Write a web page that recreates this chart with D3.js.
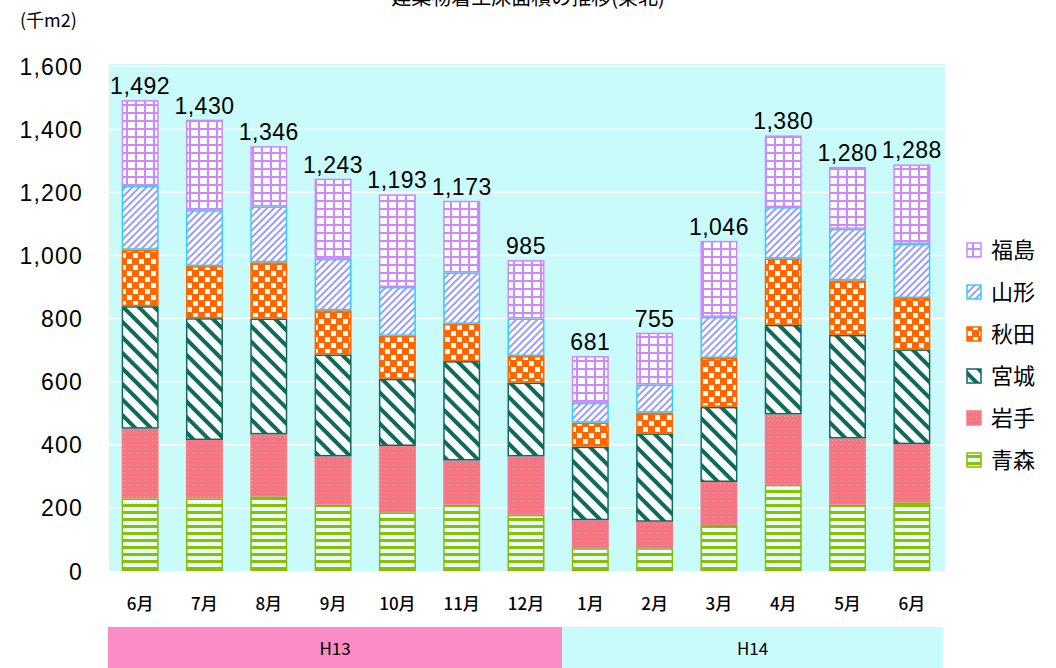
<!DOCTYPE html>
<html><head><meta charset="utf-8">
<script src="https://cdn.jsdelivr.net/npm/d3@7"></script>
<style>
html,body{margin:0;padding:0;background:#fff;}
svg{display:block;}
</style></head>
<body>
<svg id="chart" width="1056" height="668"></svg>
<script>
const months = ["6月","7月","8月","9月","10月","11月","12月","1月","2月","3月","4月","5月","6月"];
const eraLabels = ["H13","H14"];
const eraStart = [0,7];
const eraEnd = [6,12];
const seriesNames = ["青森","岩手","宮城","秋田","山形","福島"];
const aomori    = [230,230,236,210,186,210,178,72,72,146,273,210,217];
const iwate     = [221,185,197,153,210,140,185,89,84,136,223,210,185];
const miyagi    = [388,386,367,323,213,315,234,233,280,238,284,328,300];
const akita     = [179,165,178,140,136,118,84,76,66,155,210,173,163];
const yamagata  = [202,177,177,163,155,163,119,63,89,130,163,163,171];
const fukushima = [272,287,191,254,293,227,185,148,164,241,227,196,252];
const totals    = [1492,1430,1346,1243,1193,1173,985,681,755,1046,1380,1280,1288];
const yTicks = [0,200,400,600,800,1000,1200,1400,1600];

const seriesValues = [aomori, iwate, miyagi, akita, yamagata, fukushima];
const seriesStroke = ["#88bb00","#f77a88","#0e6b5c","#ff6600","#33ccff","#cc88ff"];
const seriesFill = ["url(#pAomori)","url(#pIwate)","url(#pMiyagi)","url(#pAkita)","url(#pYamagata)","url(#pFukushima)"];

const svg = d3.select("#chart");
const defs = svg.append("defs");

// patterns
let p = defs.append("pattern").attr("id","pAomori").attr("patternUnits","userSpaceOnUse").attr("width",8).attr("height",7);
p.append("rect").attr("width",8).attr("height",7).attr("fill","#e6ffff");
p.append("rect").attr("y",0).attr("width",8).attr("height",3).attr("fill","#8cbf00");

p = defs.append("pattern").attr("id","pIwate").attr("patternUnits","userSpaceOnUse").attr("width",4).attr("height",4);
p.append("rect").attr("width",4).attr("height",4).attr("fill","#fa7488");
p.append("rect").attr("x",0).attr("y",0).attr("width",1).attr("height",1).attr("fill","#ff9a70");
p.append("rect").attr("x",2).attr("y",2).attr("width",1).attr("height",1).attr("fill","#f06aa0");

p = defs.append("pattern").attr("id","pMiyagi").attr("patternUnits","userSpaceOnUse").attr("width",11).attr("height",11).attr("patternTransform","rotate(-45)");
p.append("rect").attr("width",11).attr("height",11).attr("fill","#ffffff");
p.append("rect").attr("x",0).attr("width",4).attr("height",11).attr("fill","#0e6b5c");

p = defs.append("pattern").attr("id","pAkita").attr("patternUnits","userSpaceOnUse").attr("width",12).attr("height",12);
p.append("rect").attr("width",12).attr("height",12).attr("fill","#ff6600");
p.append("rect").attr("x",1).attr("y",1).attr("width",5).attr("height",5).attr("fill","#ffffff");
p.append("rect").attr("x",7).attr("y",7).attr("width",5).attr("height",5).attr("fill","#ffffff");

p = defs.append("pattern").attr("id","pYamagata").attr("patternUnits","userSpaceOnUse").attr("width",5).attr("height",5).attr("patternTransform","rotate(45)");
p.append("rect").attr("width",5).attr("height",5).attr("fill","#ffffff");
p.append("rect").attr("width",2).attr("height",5).attr("fill","#9a9cff");

p = defs.append("pattern").attr("id","pFukushima").attr("patternUnits","userSpaceOnUse").attr("width",9).attr("height",8);
p.append("rect").attr("width",9).attr("height",8).attr("fill","#ffffff");
p.append("rect").attr("width",2).attr("height",8).attr("fill","#cc88ff");
p.append("rect").attr("width",9).attr("height",2).attr("fill","#cc88ff");

const plotL = 109, plotR = 945, plotT = 64, plotB = 571;
const x = d3.scaleBand().domain(d3.range(months.length)).range([108,944]).paddingInner(0.425).paddingOuter(0.2125);
const y = d3.scaleLinear().domain([0,1600]).range([571,66]);

// title (cut off at top, as in the original)
svg.append("text").attr("x",528).attr("y",5).attr("text-anchor","middle")
  .attr("font-family","Noto Sans CJK JP").attr("font-size",20).attr("fill","#000")
  .text("建築物着工床面積の推移(東北)");
svg.append("text").attr("x",20).attr("y",27)
  .attr("font-family","Noto Sans CJK JP").attr("font-size",18).attr("fill","#000")
  .text("(千m2)");

// plot background
svg.append("rect").attr("x",plotL).attr("y",plotT).attr("width",plotR-plotL).attr("height",plotB-plotT).attr("fill","#c9fbfb");

// gridlines
svg.append("g").selectAll("line").data(yTicks.filter(d=>d>0)).join("line")
  .attr("x1",plotL).attr("x2",plotR).attr("y1",d=>y(d)).attr("y2",d=>y(d))
  .attr("stroke","#ffffff").attr("stroke-width",1.5);

// y axis
const yAxis = d3.axisLeft(y).tickValues(yTicks).tickSize(0).tickPadding(0).tickFormat(d3.format(","));
const ga = svg.append("g").attr("transform","translate(83,0)").call(yAxis);
ga.select(".domain").remove();
ga.selectAll("text").attr("font-family","Liberation Sans, Arial").attr("font-size",23).attr("letter-spacing","1.2px").attr("fill","#000").attr("dy","0.35em");

// stacked bars
const table = months.map((m,i)=>{const o={i}; seriesNames.forEach((s,k)=>o[s]=seriesValues[k][i]); return o;});
const stack = d3.stack().keys(seriesNames)(table);
svg.append("g").selectAll("g").data(stack).join("g")
  .attr("fill",(d,k)=>seriesFill[k]).attr("stroke",(d,k)=>seriesStroke[k]).attr("stroke-width",1.5)
  .selectAll("rect").data(d=>d).join("rect")
  .attr("x",d=>x(d.data.i)+0.75).attr("width",x.bandwidth()-1.5)
  .attr("y",d=>y(d[1])+0.75).attr("height",d=>Math.max(0,y(d[0])-y(d[1])-1.5));

// totals
svg.append("g").selectAll("text").data(totals).join("text")
  .attr("x",(d,i)=>x(i)+x.bandwidth()/2).attr("y",d=>y(d)-6)
  .attr("text-anchor","middle").attr("font-family","Liberation Sans, Arial").attr("font-size",23).attr("letter-spacing","0.5px")
  .attr("fill","#000").text(d=>d3.format(",")(d));

// month labels
svg.append("g").selectAll("text").data(months).join("text")
  .attr("x",(d,i)=>x(i)+x.bandwidth()/2).attr("y",610)
  .attr("text-anchor","middle").attr("font-family","Noto Sans CJK JP").attr("font-size",17).attr("font-weight",500).attr("fill","#000")
  .text(d=>d);

// era bands
const eraColors = ["#fb8cc6","#c9fbfb"];
const half = (x.step()-x.bandwidth())/2;
const eraX0 = (k)=> k===0 ? plotL-1 : x(eraStart[k]) - half + 4;
const eraX1 = (k)=> k===eraLabels.length-1 ? plotR-2 : x(eraEnd[k]) + x.bandwidth() + half + 4;
const eg = svg.append("g");
eraLabels.forEach((lab,k)=>{
  eg.append("rect").attr("x",eraX0(k)).attr("y",627).attr("width",eraX1(k)-eraX0(k)).attr("height",41).attr("fill",eraColors[k]);
  eg.append("text").attr("x",(eraX0(k)+eraX1(k))/2).attr("y",655).attr("text-anchor","middle")
    .attr("font-family","Noto Sans CJK JP").attr("font-size",17).attr("fill","#000").text(lab);
});

// legend (top: 福島)
const legendOrder = d3.range(seriesNames.length).reverse();
const lg = svg.append("g");
legendOrder.forEach((k,j)=>{
  const yy = 250 + j*42;
  lg.append("rect").attr("x",967).attr("y",yy-7).attr("width",14).attr("height",14)
    .attr("fill",seriesFill[k]).attr("stroke",seriesStroke[k]).attr("stroke-width",1.5);
  lg.append("text").attr("x",991).attr("y",yy).attr("dy","0.36em")
    .attr("font-family","Noto Sans CJK JP").attr("font-size",22).attr("fill","#000").text(seriesNames[k]);
});
</script>
</body></html>
